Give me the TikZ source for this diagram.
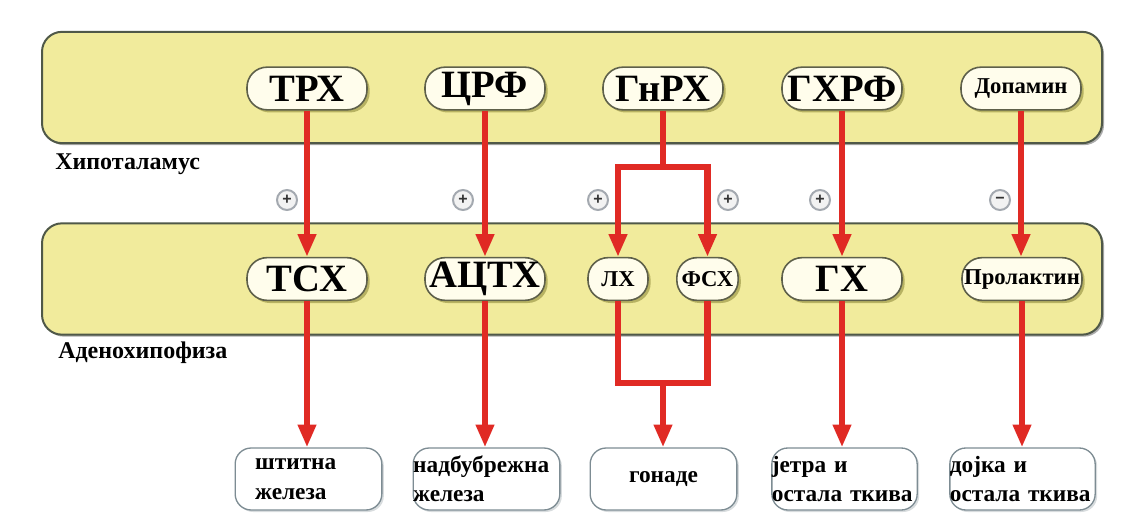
\documentclass[tikz,border=0pt]{standalone}
\usepackage{fontspec}
\setmainfont{Liberation Serif}
\setsansfont{Liberation Sans}
\usetikzlibrary{arrows.meta,shadows}
\definecolor{panelfill}{HTML}{F1EB9C}
\definecolor{panelline}{HTML}{4F5848}
\definecolor{pillfill}{HTML}{FFFDEC}
\definecolor{pillline}{HTML}{5E604A}
\definecolor{arrowred}{HTML}{E02A24}
\definecolor{boxline}{HTML}{7D8C93}
\definecolor{signring}{HTML}{A4A9B0}
\tikzset{
  panel/.style={draw=panelline, line width=1.5pt, fill=panelfill, rounded corners=15pt,
    minimum width=795pt, minimum height=83.5pt, inner sep=0pt,
    drop shadow={shadow xshift=1.5pt, shadow yshift=-1.5pt, fill=black!60, opacity=0.55}},
  pill/.style={draw=pillline, line width=1.2pt, fill=pillfill, rounded corners=15pt,
    minimum width=90pt, minimum height=32pt, inner sep=0pt,
    font=\bfseries\fontsize{29}{29}\selectfont,
    drop shadow={shadow xshift=2pt, shadow yshift=-2pt, fill=olive!75!black, opacity=0.45}},
  smallpill/.style={font=\bfseries\fontsize{17}{17}\selectfont},
  target/.style={draw=boxline, line width=1pt, fill=white, rounded corners=12pt,
    minimum height=46.5pt, inner ysep=0pt, align=left,
    font=\bfseries\fontsize{17.5}{22}\selectfont,
    drop shadow={shadow xshift=1.5pt, shadow yshift=-1.5pt, fill=boxline!60, opacity=0.5}},
  region/.style={font=\bfseries\fontsize{18}{18}\selectfont, anchor=base west, inner sep=0pt},
  sign/.style={circle, draw=signring, line width=1.5pt, fill=black!5, minimum size=15pt,
    inner sep=0pt, text=black!80, font=\sffamily\bfseries\fontsize{12}{12}\selectfont},
  redline/.style={draw=arrowred, line width=5pt, line join=miter},
  redarrow/.style={redline, -{Triangle[length=17pt,width=13pt]}}
}
\begin{document}
\begin{tikzpicture}[x=0.75pt, y=-0.75pt]
\useasboundingbox (0,0) rectangle (1138,531);

% panels
\node[panel] (hyp) at (572,87.5) {};
\node[panel] (aden) at (572,279) {};
\node[region] (hyplab) at (55,170) {Хипоталамус};
\node[region] (adenlab) at (58,358) {Аденохипофиза};

% hypothalamic hormones
\node[pill] (trh)  at (307,88.5) {ТРХ};
\node[pill] (crf)  at (485,88.5) {ЦРФ};
\node[pill] (gnrh) at (663,88.5) {ГнРХ};
\node[pill] (ghrf) at (842,88.5) {ГХРФ};
\node[pill, smallpill] (dop) at (1021,88.5) {Допамин};

% pituitary hormones
\node[pill] (tsh)  at (307,279) {ТСХ};
\node[pill] (acth) at (485,279) {АЦТХ};
\node[pill, smallpill, minimum width=45pt] (lh)  at (618,279) {ЛХ};
\node[pill, smallpill, minimum width=46pt] (fsh) at (707.5,279) {ФСХ};
\node[pill] (gh)   at (842,279) {ГХ};
\node[pill, smallpill] (prl) at (1022,279) {Пролактин};

% targets
\node[target, text width=80pt, inner xsep=15pt] (thy) at (308.5,479) {штитна\\железа};
\node[target, text width=110pt, inner xsep=0pt] (adr) at (486.5,479) {надбубрежна\\железа};
\node[target, text width=110pt, inner xsep=0pt, align=center] (gon) at (663.5,479) {гонаде};
\node[target, text width=109pt, inner xsep=0pt] (liv) at (844.5,479) {јетра и\\остала ткива};
\node[target, text width=109pt, inner xsep=0pt] (brs) at (1022.5,479) {дојка и\\остала ткива};

% signs
\node[sign] (s1) at (287,200) {+};
\node[sign] (s2) at (463,200) {+};
\node[sign] (s3) at (598,200) {+};
\node[sign] (s4) at (728,200) {+};
\node[sign] (s5) at (820,200) {+};
\node[sign] (s6) at (1000,200) {−};

% hypothalamus -> pituitary
\draw[redarrow] (trh.south) -- (tsh.north);
\draw[redarrow] (crf.south) -- (acth.north);
\draw[redarrow] (ghrf.south) -- (ghrf.south |- gh.north);
\draw[redarrow] (dop.south) -- (dop.south |- prl.north);
\coordinate (gbar) at (663,167);
\draw[redline] (gnrh.south) -- (gbar);
\draw[redarrow] (gbar) -| (lh.north);
\draw[redarrow] (gbar) -| (fsh.north);

% pituitary -> targets
\draw[redarrow] (tsh.south) -- (tsh.south |- thy.north);
\draw[redarrow] (acth.south) -- (acth.south |- adr.north);
\draw[redarrow] (gh.south) -- (gh.south |- liv.north);
\draw[redarrow] (prl.south) -- (prl.south |- brs.north);
\coordinate (lbar) at (663,383);
\draw[redline] (lh.south) |- (lbar) -| (fsh.south);
\draw[redarrow] (lbar) -- (lbar |- gon.north);
\end{tikzpicture}
\end{document}
